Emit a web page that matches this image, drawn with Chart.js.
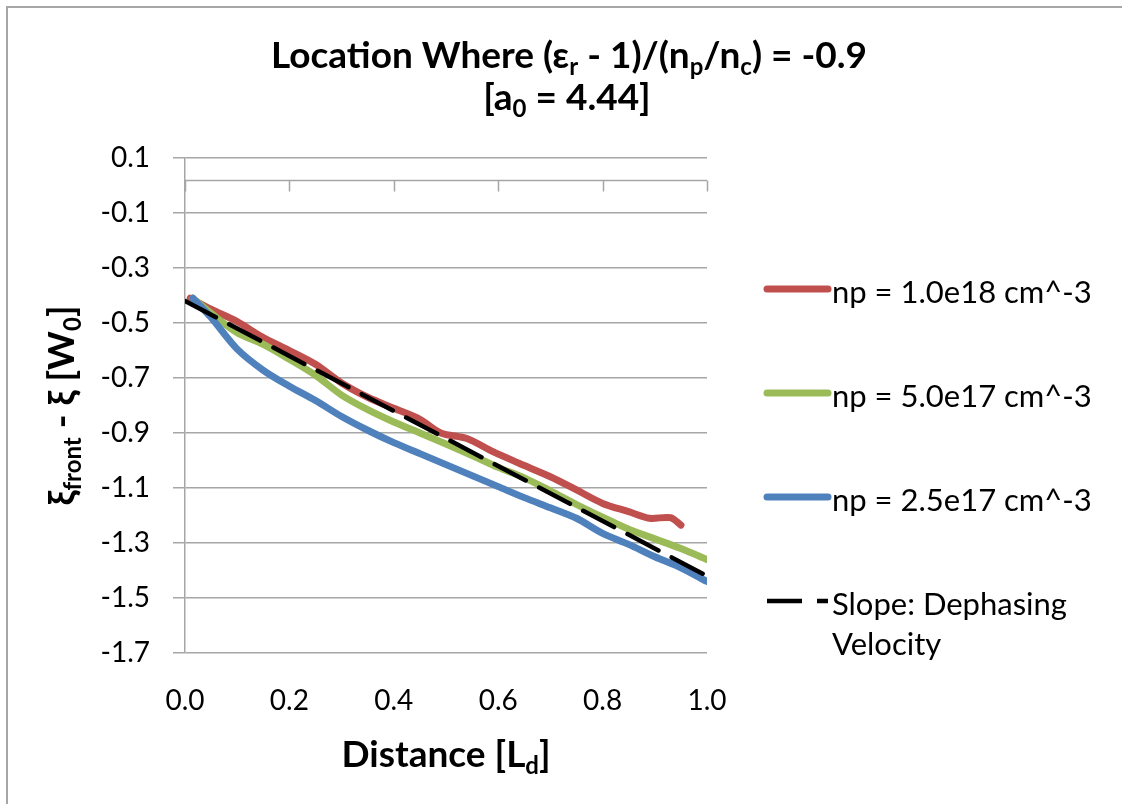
<!DOCTYPE html>
<html>
<head>
<meta charset="utf-8">
<title>Location Where (εr - 1)/(np/nc) = -0.9</title>
<script src="https://cdn.jsdelivr.net/npm/chart.js@4.4.1/dist/chart.umd.min.js"></script>
<style>
  html, body { margin: 0; padding: 0; background: #fff; }
  #wrap { position: relative; width: 1122px; height: 804px; overflow: hidden; }
  #frame { position: absolute; left: 6px; top: 6px; width: 1300px; height: 1000px; border: 2px solid #a6a6a6; }
  #dephaseChart { position: absolute; left: 0; top: 0; }
</style>
</head>
<body>
<div id="wrap">
  <div id="frame"></div>
  <canvas id="dephaseChart" width="1122" height="804"></canvas>
</div>
<script>
// series names (legend)
const seriesNames = ['np = 1.0e18 cm^-3', 'np = 5.0e17 cm^-3', 'np = 2.5e17 cm^-3', 'Slope: Dephasing Velocity'];
const seriesColors = ['#C0504D', '#9BBB59', '#4F81BD', '#000000'];

// np = 1.0e18
const distanceRed = [0.01, 0.05, 0.10, 0.15, 0.20, 0.25, 0.30, 0.35, 0.40, 0.45, 0.49, 0.54, 0.59, 0.64, 0.70, 0.75, 0.80, 0.85, 0.89, 0.93, 0.95];
const offsetRed = [-0.43, -0.47, -0.515, -0.573, -0.62, -0.67, -0.738, -0.79, -0.83, -0.87, -0.92, -0.94, -0.988, -1.03, -1.079, -1.127, -1.176, -1.206, -1.23, -1.228, -1.255];

// np = 5.0e17 and 2.5e17 share the same x samples
const distance = [0.015, 0.05, 0.10, 0.15, 0.20, 0.25, 0.30, 0.35, 0.40, 0.45, 0.50, 0.55, 0.60, 0.65, 0.70, 0.75, 0.80, 0.85, 0.90, 0.95, 1.00];
const offsetGreen = [-0.43, -0.485, -0.555, -0.598, -0.652, -0.71, -0.782, -0.835, -0.88, -0.92, -0.96, -1.002, -1.045, -1.083, -1.13, -1.18, -1.226, -1.27, -1.305, -1.34, -1.38];
const offsetBlue = [-0.43, -0.50, -0.615, -0.692, -0.75, -0.802, -0.86, -0.91, -0.955, -0.995, -1.035, -1.075, -1.115, -1.155, -1.192, -1.23, -1.285, -1.325, -1.37, -1.41, -1.46];

// dephasing slope
const distanceSlope = [0.0, 1.0];
const offsetSlope = [-0.44, -1.44];

// axes
const xMin = 0, xMax = 1.0, xStep = 0.2;
const yMin = -1.72, yMax = 0.08, yStep = 0.2;

// titles, [text, isSubscript]
const titleLine1 = [['Location Where (ε', 0], ['r', 1], [' - 1)/(n', 0], ['p', 1], ['/n', 0], ['c', 1], [') = -0.9', 0]];
const titleLine2 = [['[a', 0], ['0', 1], [' = 4.44]', 0]];
const yTitle = [['ξ', 0], ['front', 1], [' - ξ [W', 0], ['0', 1], [']', 0]];
const xTitle = [['Distance [L', 0], ['d', 1], [']', 0]];

const FONT = 'Lato, "Open Sans", sans-serif';
const GRID = '#a6a6a6';

function toPoints(xs, ys) {
  return xs.map((x, i) => ({ x: x, y: ys[i] }));
}

// draws text with subscripts, centered on x
function drawRich(ctx, parts, x, y, size, bold) {
  const weight = bold ? 'bold ' : '';
  const subSize = Math.round(size * 0.65);
  let total = 0;
  parts.forEach(([t, sub]) => {
    ctx.font = weight + (sub ? subSize : size) + 'px ' + FONT;
    total += ctx.measureText(t).width;
  });
  let cx = x - total / 2;
  parts.forEach(([t, sub]) => {
    ctx.font = weight + (sub ? subSize : size) + 'px ' + FONT;
    ctx.fillText(t, cx, sub ? y + size * 0.2 : y);
    cx += ctx.measureText(t).width;
  });
}

// x axis line sits at y = 0, labels stay at the bottom
const zeroAxis = {
  id: 'zeroAxis',
  beforeDatasetsDraw(chart) {
    const { ctx, scales: { x, y } } = chart;
    const py = Math.round(y.getPixelForValue(0)) + 0.5;
    ctx.save();
    ctx.strokeStyle = GRID;
    ctx.lineWidth = 1.5;
    ctx.beginPath();
    ctx.moveTo(x.left, py);
    ctx.lineTo(x.right, py);
    x.ticks.forEach(t => {
      const px = Math.round(x.getPixelForValue(t.value)) + 0.5;
      ctx.moveTo(px, py);
      ctx.lineTo(px, py + 11);
    });
    ctx.stroke();
    ctx.restore();
  }
};

const textLayer = {
  id: 'textLayer',
  afterDraw(chart) {
    const { ctx, chartArea } = chart;
    ctx.save();
    ctx.fillStyle = '#000';
    ctx.textAlign = 'left';
    ctx.textBaseline = 'alphabetic';

    drawRich(ctx, titleLine1, 569, 68, 37, true);
    drawRich(ctx, titleLine2, 567, 110, 37, true);
    drawRich(ctx, xTitle, (chartArea.left + chartArea.right) / 2, 767, 37, true);

    ctx.save();
    ctx.translate(74, (chartArea.top + chartArea.bottom) / 2);
    ctx.rotate(-Math.PI / 2);
    drawRich(ctx, yTitle, 0, 0, 37, true);
    ctx.restore();

    // legend
    const lx = 767, lw = 61, tx = 832;
    chart.data.datasets.forEach((ds, i) => {
      const ly = 289 + i * 104;
      ctx.save();
      ctx.strokeStyle = ds.borderColor;
      ctx.lineWidth = ds.borderWidth;
      ctx.lineCap = ds.borderDash ? 'butt' : 'round';
      ctx.setLineDash(ds.borderDash || []);
      ctx.beginPath();
      ctx.moveTo(lx, ly);
      ctx.lineTo(lx + lw, ly);
      ctx.stroke();
      ctx.restore();

      ctx.font = '31px ' + FONT;
      const words = ds.label.split(' ');
      const lines = [];
      let cur = '';
      words.forEach(w => {
        const test = cur ? cur + ' ' + w : w;
        if (cur && ctx.measureText(test).width > 275) {
          lines.push(cur);
          cur = w;
        } else {
          cur = test;
        }
      });
      lines.push(cur);
      lines.forEach((line, j) => ctx.fillText(line, tx, ly + 14 + j * 40));
    });
    ctx.restore();
  }
};

const datasets = [
  { label: seriesNames[0], data: toPoints(distanceRed, offsetRed), borderColor: seriesColors[0], borderWidth: 7, order: 3 },
  { label: seriesNames[1], data: toPoints(distance, offsetGreen), borderColor: seriesColors[1], borderWidth: 7, order: 2 },
  { label: seriesNames[2], data: toPoints(distance, offsetBlue), borderColor: seriesColors[2], borderWidth: 7, order: 1 },
  { label: seriesNames[3], data: toPoints(distanceSlope, offsetSlope), borderColor: seriesColors[3], borderWidth: 4.5, borderDash: [35, 15], order: 0 }
];

const ctx = document.getElementById('dephaseChart');

new Chart(ctx, {
  type: 'line',
  data: { datasets },
  options: {
    responsive: false,
    devicePixelRatio: 1,
    animation: false,
    parsing: false,
    elements: {
      point: { radius: 0 },
      line: { tension: 0.3, fill: false, borderCapStyle: 'round', borderJoinStyle: 'round' }
    },
    layout: { padding: { top: 158, right: 415, left: 0, bottom: 0 } },
    plugins: {
      legend: { display: false },
      title: { display: false },
      tooltip: { enabled: false }
    },
    scales: {
      x: {
        type: 'linear',
        min: xMin,
        max: xMax,
        grid: { display: false, drawTicks: false },
        border: { display: false },
        ticks: {
          stepSize: xStep,
          padding: 31,
          color: '#000',
          font: { family: FONT, size: 28 },
          callback: v => Number(v).toFixed(1)
        },
        afterFit: s => { s.height = 151; }
      },
      y: {
        type: 'linear',
        min: yMin,
        max: yMax,
        grid: { color: GRID, lineWidth: 1.5, tickLength: 12 },
        border: { display: true, color: GRID, width: 1.5 },
        ticks: {
          stepSize: yStep,
          padding: 23,
          color: '#000',
          font: { family: FONT, size: 28 },
          callback: v => Number(v).toFixed(1)
        },
        afterFit: s => { s.width = 185; }
      }
    }
  },
  plugins: [zeroAxis, textLayer]
});
</script>
</body>
</html>
